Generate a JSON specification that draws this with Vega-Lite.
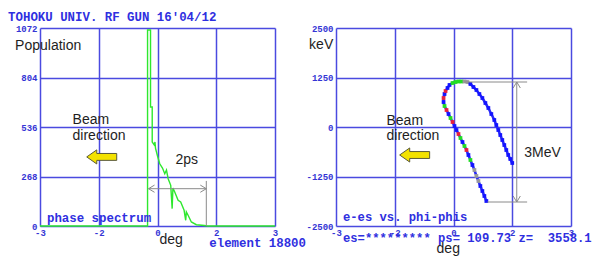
{
  "$schema": "https://vega.github.io/schema/vega-lite/v6.json",
  "background": "white",
  "padding": {"left": 8, "top": 10, "right": 0, "bottom": 0},
  "bounds": "flush",
  "spacing": 61,
  "hconcat": [
    {
      "width": 235,
      "height": 198,
      "encoding": {
        "x": {"field": "x", "type": "quantitative", "scale": {"domain": [-3, 3], "nice": false, "zero": false},
              "axis": {"title": null, "values": [-3, -1.5, 0, 1.5, 3], "labelExpr": "datum.value == -1.5 ? '-2' : datum.value == 1.5 ? '2' : '' + datum.value"}},
        "y": {"field": "y", "type": "quantitative", "scale": {"domain": [0, 1072], "nice": false, "zero": false},
              "axis": {"title": null, "values": [0, 268, 536, 804, 1072], "labelExpr": "'' + datum.value"}}
      },
      "layer": [
        {
          "data": {"values": [
            {"i": 1, "x": -3, "y": 0}, {"i": 2, "x": -0.254, "y": 0}, {"i": 3, "x": -0.254, "y": 1061},
            {"i": 4, "x": -0.178, "y": 1061}, {"i": 5, "x": -0.178, "y": 644}, {"i": 6, "x": -0.135, "y": 644},
            {"i": 7, "x": -0.135, "y": 455}, {"i": 8, "x": -0.084, "y": 439}, {"i": 9, "x": -0.064, "y": 455},
            {"i": 10, "x": -0.051, "y": 422}, {"i": 11, "x": 0, "y": 379}, {"i": 12, "x": 0.058, "y": 337},
            {"i": 13, "x": 0.127, "y": 314}, {"i": 14, "x": 0.186, "y": 283}, {"i": 15, "x": 0.229, "y": 303},
            {"i": 16, "x": 0.272, "y": 256}, {"i": 17, "x": 0.338, "y": 220}, {"i": 18, "x": 0.374, "y": 94},
            {"i": 19, "x": 0.394, "y": 206}, {"i": 20, "x": 0.44, "y": 184}, {"i": 21, "x": 0.526, "y": 139},
            {"i": 22, "x": 0.592, "y": 130}, {"i": 23, "x": 0.679, "y": 85}, {"i": 24, "x": 0.72, "y": 31},
            {"i": 25, "x": 0.737, "y": 76}, {"i": 26, "x": 0.781, "y": 58}, {"i": 27, "x": 0.864, "y": 22},
            {"i": 28, "x": 0.992, "y": 7}, {"i": 29, "x": 1.195, "y": 3}, {"i": 30, "x": 1.271, "y": 0},
            {"i": 31, "x": 3, "y": 0}
          ]},
          "mark": {"type": "line", "color": "#2ee82e", "strokeWidth": 1.4},
          "encoding": {"order": {"field": "i", "type": "quantitative"}}
        },
        {
          "data": {"values": [{"x": -0.229, "x2": 1.246, "y": 202}]},
          "mark": {"type": "rule", "color": "#8a8a8a", "strokeWidth": 1},
          "encoding": {"x2": {"field": "x2"}}
        },
        {
          "data": {"values": [{"x": 1.246, "y": 0, "y2": 244}]},
          "mark": {"type": "rule", "color": "#8a8a8a", "strokeWidth": 1},
          "encoding": {"y2": {"field": "y2"}}
        },
        {
          "data": {"values": [{"x": -0.229, "y": 202, "d": "left"}, {"x": 1.246, "y": 202, "d": "right"}]},
          "mark": {"type": "point", "filled": false, "color": "#8a8a8a", "strokeWidth": 1, "size": 144, "opacity": 1},
          "encoding": {"shape": {"field": "d", "type": "nominal", "legend": null,
            "scale": {"domain": ["left", "right", "up", "down"], "range": ["M 1 -0.6 L 0 0 L 1 0.6", "M -1 -0.6 L 0 0 L -1 0.6", "M -0.6 1 L 0 0 L 0.6 1", "M -0.6 -1 L 0 0 L 0.6 -1"]}}}
        },
        {
          "data": {"values": [{"x": -1.424, "y": 374}]},
          "mark": {"type": "point", "shape": "M -1 0 L -0.33 -0.47 L -0.33 -0.23 L 1 -0.23 L 1 0.23 L -0.33 0.23 L -0.33 0.47 Z", "size": 900, "filled": true, "fill": "#f3e200", "stroke": "#5a5a3a", "strokeWidth": 1, "opacity": 1}
        },
        {
          "data": {"values": [
            {"x": -3.636, "y": 977, "t": "Population"},
            {"x": -2.169, "y": 574, "t": "Beam"},
            {"x": -2.169, "y": 486, "t": "direction"},
            {"x": 0.458, "y": 355, "t": "2ps"},
            {"x": 0.051, "y": -78, "t": "deg"}
          ]},
          "mark": {"type": "text", "align": "left", "baseline": "middle", "font": "Liberation Sans", "fontSize": 14, "color": "#1e1e1e"},
          "encoding": {"text": {"field": "t"}}
        },
        {
          "data": {"values": [
            {"x": -3.814, "y": 1134, "t": "TOHOKU UNIV. RF GUN 16'04/12"},
            {"x": -2.822, "y": 41, "t": "phase spectrum"},
            {"x": 1.322, "y": -92, "t": "element 18800"}
          ]},
          "mark": {"type": "text", "align": "left", "baseline": "middle", "font": "Liberation Mono", "fontWeight": "bold", "fontSize": 12.4, "color": "#2f2fe0"},
          "encoding": {"text": {"field": "t"}}
        }
      ]
    },
    {
      "width": 235,
      "height": 198,
      "encoding": {
        "x": {"field": "x", "type": "quantitative", "scale": {"domain": [-3, 3], "nice": false, "zero": false},
              "axis": {"title": null, "values": [-3, -1.5, 0, 1.5, 3], "labelExpr": "datum.value == -1.5 ? '-2' : datum.value == 1.5 ? '2' : '' + datum.value"}},
        "y": {"field": "y", "type": "quantitative", "scale": {"domain": [-2500, 2500], "nice": false, "zero": false},
              "axis": {"title": null, "values": [-2500, -1250, 0, 1250, 2500], "labelExpr": "'' + datum.value"}}
      },
      "layer": [
        {
          "data": {"name": "phase", "values": [
            {"i": 1, "x": 0.839, "y": -1869, "c": "b"}, {"i": 2, "x": 0.788, "y": -1742, "c": "b"},
            {"i": 3, "x": 0.737, "y": -1616, "c": "b"}, {"i": 4, "x": 0.686, "y": -1490, "c": "b"},
            {"i": 5, "x": 0.636, "y": -1364, "c": "k"}, {"i": 6, "x": 0.585, "y": -1237, "c": "k"},
            {"i": 7, "x": 0.534, "y": -1086, "c": "k"}, {"i": 8, "x": 0.483, "y": -960, "c": "b"},
            {"i": 9, "x": 0.432, "y": -833, "c": "g"}, {"i": 10, "x": 0.381, "y": -707, "c": "b"},
            {"i": 11, "x": 0.331, "y": -581, "c": "r"}, {"i": 12, "x": 0.28, "y": -480, "c": "g"},
            {"i": 13, "x": 0.229, "y": -379, "c": "b"}, {"i": 14, "x": 0.178, "y": -278, "c": "g"},
            {"i": 15, "x": 0.127, "y": -177, "c": "r"}, {"i": 16, "x": 0.076, "y": -76, "c": "b"},
            {"i": 17, "x": 0.025, "y": 25, "c": "b"}, {"i": 18, "x": -0.025, "y": 126, "c": "r"},
            {"i": 19, "x": -0.076, "y": 227, "c": "g"}, {"i": 20, "x": -0.127, "y": 328, "c": "b"},
            {"i": 21, "x": -0.178, "y": 429, "c": "r"}, {"i": 22, "x": -0.229, "y": 530, "c": "g"},
            {"i": 23, "x": -0.254, "y": 631, "c": "b"}, {"i": 24, "x": -0.254, "y": 732, "c": "r"},
            {"i": 25, "x": -0.229, "y": 833, "c": "b"}, {"i": 26, "x": -0.203, "y": 909, "c": "r"},
            {"i": 27, "x": -0.153, "y": 985, "c": "b"}, {"i": 28, "x": -0.102, "y": 1061, "c": "b"},
            {"i": 29, "x": -0.025, "y": 1111, "c": "g"}, {"i": 30, "x": 0.051, "y": 1136, "c": "g"},
            {"i": 31, "x": 0.127, "y": 1149, "c": "g"}, {"i": 32, "x": 0.203, "y": 1149, "c": "g"},
            {"i": 33, "x": 0.28, "y": 1149, "c": "k"}, {"i": 34, "x": 0.356, "y": 1136, "c": "k"},
            {"i": 35, "x": 0.432, "y": 1086, "c": "b"}, {"i": 36, "x": 0.509, "y": 1010, "c": "b"},
            {"i": 37, "x": 0.585, "y": 934, "c": "b"}, {"i": 38, "x": 0.661, "y": 833, "c": "b"},
            {"i": 39, "x": 0.737, "y": 732, "c": "b"}, {"i": 40, "x": 0.814, "y": 606, "c": "b"},
            {"i": 41, "x": 0.89, "y": 480, "c": "b"}, {"i": 42, "x": 0.966, "y": 328, "c": "b"},
            {"i": 43, "x": 1.042, "y": 177, "c": "b"}, {"i": 44, "x": 1.093, "y": 50, "c": "b"},
            {"i": 45, "x": 1.144, "y": -76, "c": "b"}, {"i": 46, "x": 1.195, "y": -202, "c": "b"},
            {"i": 47, "x": 1.246, "y": -328, "c": "b"}, {"i": 48, "x": 1.297, "y": -455, "c": "b"},
            {"i": 49, "x": 1.348, "y": -581, "c": "b"}, {"i": 50, "x": 1.398, "y": -707, "c": "b"},
            {"i": 51, "x": 1.449, "y": -808, "c": "b"}, {"i": 52, "x": 1.5, "y": -909, "c": "b"}
          ]},
          "layer": [
            {
              "mark": {"type": "line", "color": "#2a2af5", "strokeWidth": 2.5},
              "encoding": {"order": {"field": "i", "type": "quantitative"}}
            },
            {
              "mark": {"type": "square", "size": 14, "opacity": 1},
              "encoding": {"color": {"field": "c", "type": "nominal", "legend": null,
                "scale": {"domain": ["b", "r", "g", "k"], "range": ["#1414ff", "#e8203c", "#22dd22", "#9a9a9a"]}}}
            }
          ]
        },
        {
          "data": {"values": [{"x": 0.28, "x2": 1.88, "y": 1136}, {"x": 0.865, "x2": 1.88, "y": -1894}]},
          "mark": {"type": "rule", "color": "#8a8a8a", "strokeWidth": 1},
          "encoding": {"x2": {"field": "x2"}}
        },
        {
          "data": {"values": [{"x": 1.615, "y": 1136, "y2": -1894}]},
          "mark": {"type": "rule", "color": "#8a8a8a", "strokeWidth": 1},
          "encoding": {"y2": {"field": "y2"}}
        },
        {
          "data": {"values": [{"x": 1.615, "y": 1136, "d": "up"}, {"x": 1.615, "y": -1894, "d": "down"}]},
          "mark": {"type": "point", "filled": false, "color": "#8a8a8a", "strokeWidth": 1, "size": 144, "opacity": 1},
          "encoding": {"shape": {"field": "d", "type": "nominal", "legend": null,
            "scale": {"domain": ["left", "right", "up", "down"], "range": ["M 1 -0.6 L 0 0 L 1 0.6", "M -1 -0.6 L 0 0 L -1 0.6", "M -0.6 1 L 0 0 L 0.6 1", "M -0.6 -1 L 0 0 L 0.6 -1"]}}}
        },
        {
          "data": {"values": [{"x": -0.992, "y": -707}]},
          "mark": {"type": "point", "shape": "M -1 0 L -0.33 -0.47 L -0.33 -0.23 L 1 -0.23 L 1 0.23 L -0.33 0.23 L -0.33 0.47 Z", "size": 900, "filled": true, "fill": "#f3e200", "stroke": "#5a5a3a", "strokeWidth": 1, "opacity": 1}
        },
        {
          "data": {"values": [
            {"x": -3.687, "y": 2075, "t": "keV"},
            {"x": -1.711, "y": 164, "t": "Beam"},
            {"x": -1.711, "y": -215, "t": "direction"},
            {"x": 1.805, "y": -669, "t": "3MeV"},
            {"x": -0.432, "y": -3088, "t": "deg"}
          ]},
          "mark": {"type": "text", "align": "left", "baseline": "middle", "font": "Liberation Sans", "fontSize": 14, "color": "#1e1e1e"},
          "encoding": {"text": {"field": "t"}}
        },
        {
          "data": {"values": [
            {"x": -2.822, "y": -2285, "t": "e-es vs. phi-phis"},
            {"x": -2.822, "y": -2803, "t": "es=********* ps= 109.73 z=\u00a0\u00a03558.1"}
          ]},
          "mark": {"type": "text", "align": "left", "baseline": "middle", "font": "Liberation Mono", "fontWeight": "bold", "fontSize": 12.2, "color": "#2f2fe0"},
          "encoding": {"text": {"field": "t"}}
        }
      ]
    }
  ],
  "config": {
    "view": {"stroke": null},
    "axis": {
      "grid": true, "gridColor": "#4a4ae0", "gridWidth": 1.5, "gridOpacity": 1,
      "domain": false, "ticks": false,
      "labelFont": "Liberation Mono", "labelFontWeight": "bold", "labelFontSize": 9, "labelColor": "#3535d5",
      "labelOverlap": false, "labelFlush": false, "labelBound": false
    },
    "axisX": {"labelPadding": 2},
    "axisY": {"labelPadding": 3}
  }
}
